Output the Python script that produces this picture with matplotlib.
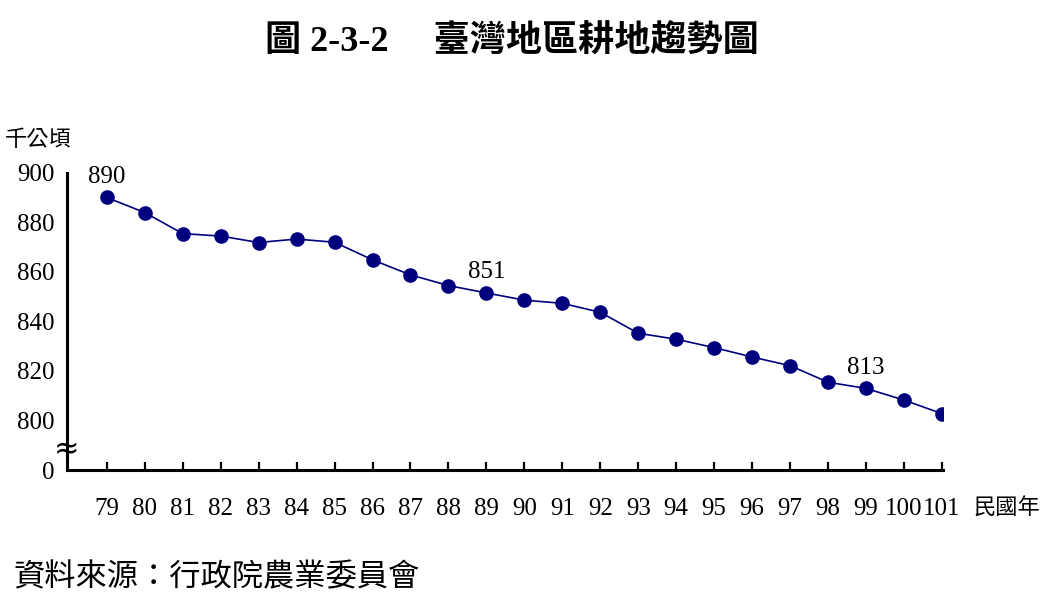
import matplotlib
matplotlib.use('Agg')
import matplotlib.pyplot as plt

# ── DATA ─────────────────────────────────────────────
years = ['79', '80', '81', '82', '83', '84', '85', '86', '87', '88', '89',
         '90', '91', '92', '93', '94', '95', '96', '97', '98', '99', '100', '101']
area = [890.0, 883.9, 875.4, 874.4, 871.8, 873.2, 871.9, 864.8, 858.7, 854.4,
        851.4, 848.5, 847.2, 843.6, 835.1, 832.7, 829.3, 825.5, 822.0, 815.3,
        812.8, 808.1, 802.6]
labelled = {'79': '890', '89': '851', '99': '813'}
ytick_vals = [900, 880, 860, 840, 820, 800]
ytick_text = ['900', '880', '860', '840', '820', '800']
zero_pos = 779.8   # where "0" sits on the broken axis

title = '圖 2-3-2　 臺灣地區耕地趨勢圖'
unit = '千公頃'
xunit = '民國年'
source = '資料來源：行政院農業委員會'

serif = ['Liberation Serif', 'Noto Sans CJK TC']
cjk = ['Noto Sans CJK TC', 'DejaVu Sans']
navy = '#00007f'

fig = plt.figure(figsize=(10.58, 6.06), dpi=100)
ax = fig.add_axes([0.0633, 0.2244, 0.828, 0.4905])

x = list(range(len(years)))
ax.plot(x, area, color=navy, lw=1.2, marker='o', markersize=9.5,
        markerfacecolor=navy, markeredgecolor=navy, zorder=3)

for i, yr in enumerate(years):
    if yr in labelled:
        ax.annotate(labelled[yr], (i, area[i]), xytext=(0, 15),
                    textcoords='offset points', ha='center', va='center',
                    fontsize=18, family=serif)

ax.set_xlim(-1.05, 22.03)
ax.set_ylim(zero_pos, 900)

ax.set_xticks(x)
ax.set_xticklabels(years, family=serif, fontsize=18)
ax.tick_params(axis='x', direction='in', length=6, width=1.6, pad=20)

ax.set_yticks(ytick_vals + [zero_pos])
ax.set_yticklabels(ytick_text + ['0'], family=serif, fontsize=18)
ax.tick_params(axis='y', length=0, pad=9)

for s in ['top', 'right']:
    ax.spines[s].set_visible(False)
for s in ['left', 'bottom']:
    ax.spines[s].set_linewidth(2.2)

# axis break mark
ax.text(-1.05, 788, '≈', ha='center', va='center', fontsize=22,
        family='DejaVu Sans', transform=ax.transData, clip_on=False)

fig.text(0.484, 0.93, title, ha='center', va='center', fontsize=26,
         fontweight='bold', family=serif)
fig.text(0.036, 0.769, unit, ha='center', va='center', fontsize=16, family=cjk)
fig.text(0.952, 0.162, xunit, ha='center', va='center', fontsize=16, family=cjk)
fig.text(0.013, 0.047, source, ha='left', va='center', fontsize=22.5, family=cjk)

fig.savefig('out.png', dpi=100)
